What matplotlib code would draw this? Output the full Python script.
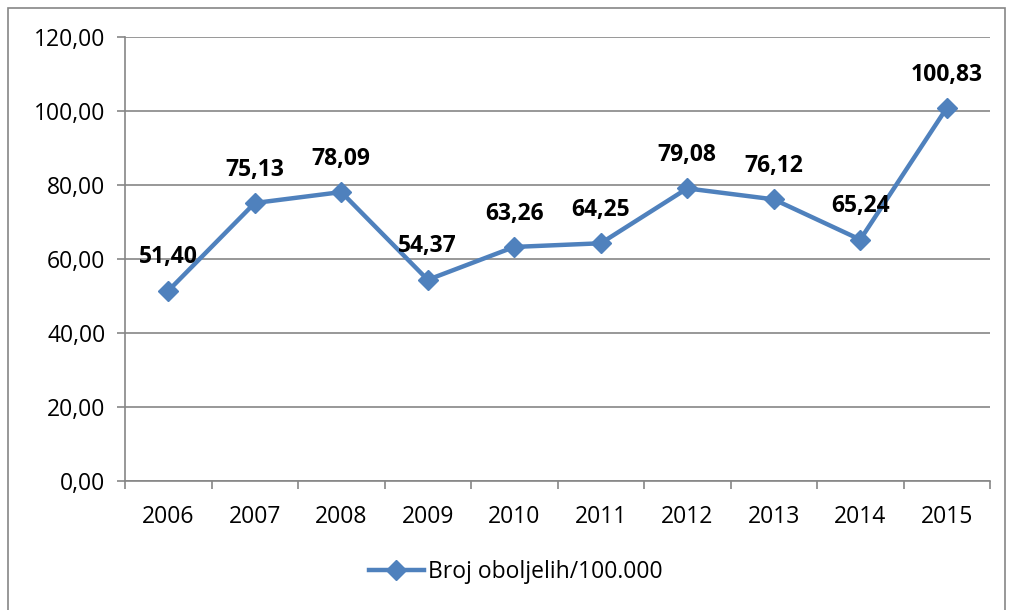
import matplotlib.pyplot as plt
from matplotlib.patches import Rectangle
from matplotlib.ticker import FuncFormatter

years = ['2006', '2007', '2008', '2009', '2010', '2011', '2012', '2013', '2014', '2015']
values = [51.40, 75.13, 78.09, 54.37, 63.26, 64.25, 79.08, 76.12, 65.24, 100.83]
series_name = 'Broj oboljelih/100.000'

plt.rcParams['font.family'] = ['Open Sans', 'DejaVu Sans']

W, H = 1009, 610
fig = plt.figure(figsize=(W / 100, H / 100), dpi=100)
ax = fig.add_axes([125 / W, 1 - 481 / H, (990 - 125) / W, (481 - 37) / H])

blue = '#4F81BD'
fs = 16.5
x = list(range(len(years)))
ax.plot(x, values, color=blue, lw=3.2, marker='D', markersize=10, label=series_name)

def fmt(v):
    return f'{v:.2f}'.replace('.', ',')

for xi, v in zip(x, values):
    ax.annotate(fmt(v), (xi, v), xytext=(0, 24), textcoords='offset points',
                ha='center', va='center', fontsize=fs, fontweight='bold')

ax.set_xlim(-0.5, len(years) - 0.5)
ax.set_ylim(0, 120)
ax.set_yticks(range(0, 121, 20))
ax.yaxis.set_major_formatter(FuncFormatter(lambda v, p: fmt(v)))
ax.set_xticks(x)
ax.set_xticklabels(years)
ax.set_xticks([i - 0.5 for i in range(len(years) + 1)], minor=True)
ax.tick_params(axis='x', which='major', length=0, pad=17, labelsize=fs)
ax.tick_params(axis='x', which='minor', length=6, color='#868686', width=1.2)
ax.tick_params(axis='y', length=6, color='#868686', width=1.2, labelsize=fs, pad=8)

ax.grid(axis='y', color='#868686', lw=1.2)
ax.set_axisbelow(True)
for s in ['top', 'right']:
    ax.spines[s].set_visible(False)
for s in ['left', 'bottom']:
    ax.spines[s].set_color('#868686')
    ax.spines[s].set_linewidth(1.2)

leg = fig.legend(loc='center', bbox_to_anchor=(516 / W, 1 - 572 / H), frameon=False,
                 fontsize=fs, handlelength=2.4, handletextpad=0.2)

fig.patches.append(Rectangle((8 / W, -0.1), (1005 - 8) / W, 1.1 - 8 / H,
                             transform=fig.transFigure, fill=False,
                             edgecolor='#868686', lw=1.2))

fig.savefig('out.png', dpi=100)
